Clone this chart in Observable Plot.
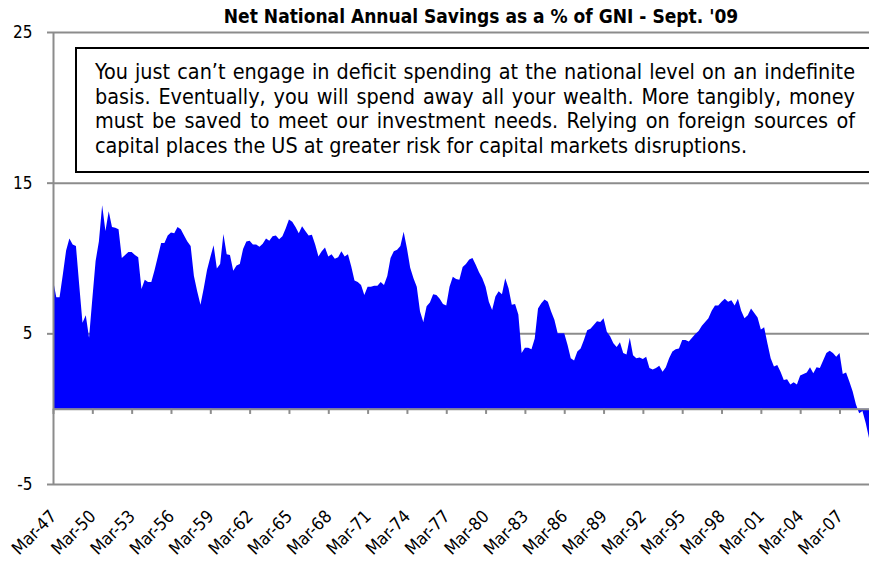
<!DOCTYPE html>
<html>
<head>
<meta charset="utf-8">
<script src="https://cdn.jsdelivr.net/npm/d3@7"></script>
<script src="https://cdn.jsdelivr.net/npm/@observablehq/plot@0.6"></script>
<style>
  html, body { margin: 0; padding: 0; background: #fff; }
  #wrap { position: relative; width: 869px; height: 566px; overflow: hidden; background: #fff;
          font-family: "DejaVu Sans Condensed", "Liberation Sans", sans-serif; }
  #spacer { height: 16px; }
  #title { position: absolute; left: 93px; width: 776px; top: 6px; text-align: center;
           font-weight: bold; font-size: 19px; line-height: 21px; color: #000; white-space: nowrap; }
  #note { position: absolute; left: 75px; top: 47px; width: 797px; height: 126px; box-sizing: border-box;
          border: 2px solid #000; background: #fff; padding: 11px 15px 0 18px;
          font-size: 21.4px; line-height: 24.5px; text-align: justify; color: #000; }
  svg { display: block; }
</style>
</head>
<body>
<div id="wrap">
  <div id="spacer"></div>
  <div id="chart"></div>
  <div id="title"></div>
  <div id="note"></div>
</div>
<script>
const titleText = "Net National Annual Savings as a % of GNI - Sept. '09";
const noteText = "You just can’t engage in deficit spending at the national level on an indefinite basis. Eventually, you will spend away all your wealth. More tangibly, money must be saved to meet our investment needs. Relying on foreign sources of capital places the US at greater risk for capital markets disruptions.";

// Quarterly net national savings as % of GNI, Mar-47 .. Jun-09
const savings = [
  8.55, 7.4, 7.4, 8.9, 10.5, 11.3, 10.9, 10.8, 8.2, 5.7,
  6.2, 4.7, 7.3, 9.8, 11.1, 13.5, 11.8, 13.1, 12.05, 12.0,
  11.9, 10.0, 10.2, 10.4, 10.4, 10.2, 10.05, 7.95, 8.55, 8.4,
  8.4, 9.2, 10.1, 11.0, 11.0, 11.5, 11.7, 11.65, 12.05, 11.9,
  11.5, 11.1, 10.8, 8.8, 7.8, 6.9, 8.0, 9.2, 10.05, 10.85,
  9.3, 9.6, 11.6, 10.25, 10.2, 9.15, 9.5, 9.6, 10.6, 11.1,
  11.15, 10.9, 10.9, 10.75, 10.95, 11.3, 11.15, 11.45, 11.5, 11.25,
  11.45, 11.95, 12.55, 12.4, 12.05, 11.65, 12.1, 11.8, 11.5, 11.55,
  10.9, 10.1, 10.45, 10.7, 10.1, 10.25, 9.95, 10.05, 10.45, 10.1,
  10.25, 9.45, 8.5, 8.4, 8.2, 7.55, 8.1, 8.1, 8.15, 8.15,
  8.4, 8.2, 8.8, 10.0, 10.45, 10.55, 10.8, 11.75, 10.65, 9.35,
  8.65, 8.1, 6.45, 5.75, 6.8, 7.05, 7.6, 7.55, 7.3, 6.95,
  6.85, 8.1, 8.75, 8.6, 8.55, 9.4, 9.6, 9.9, 10.0, 9.55,
  9.05, 8.65, 8.1, 7.1, 6.55, 7.45, 7.8, 7.6, 8.65, 8.0,
  6.9, 6.95, 6.25, 3.7, 4.05, 4.05, 3.95, 4.65, 6.65, 7.0,
  7.25, 7.1, 6.45, 5.9, 5.0, 5.0, 5.0, 4.25, 3.35, 3.2,
  3.8, 4.0, 4.55, 5.2, 5.3, 5.55, 5.8, 5.75, 6.0, 5.1,
  4.8, 4.35, 4.1, 4.4, 3.7, 3.6, 4.7, 3.55, 3.35, 3.4,
  3.3, 3.45, 2.7, 2.6, 2.7, 2.85, 2.45, 2.75, 3.35, 3.8,
  3.95, 4.0, 4.55, 4.55, 4.45, 4.7, 4.95, 5.15, 5.5, 5.75,
  6.0, 6.5, 6.85, 6.85, 7.1, 7.3, 7.1, 7.2, 6.85, 7.3,
  6.5, 6.0, 6.2, 6.65, 6.35, 6.05, 5.25, 5.4, 4.35, 3.35,
  2.8, 2.9, 2.45, 1.9, 1.95, 1.6, 1.75, 1.6, 2.2, 2.3,
  2.4, 2.75, 2.35, 2.75, 2.7, 3.2, 3.7, 3.85, 3.7, 3.45,
  3.7, 2.3, 2.4, 1.8, 1.15, 0.3, -0.3, -0.15, -0.95, -1.95
];

const tickLabels = ["Mar-47","Mar-50","Mar-53","Mar-56","Mar-59","Mar-62","Mar-65","Mar-68","Mar-71","Mar-74",
  "Mar-77","Mar-80","Mar-83","Mar-86","Mar-89","Mar-92","Mar-95","Mar-98","Mar-01","Mar-04","Mar-07"];
const quartersPerTick = 12;
const tickIndex = tickLabels.map((_, k) => k * quartersPerTick);
const yTicks = [-5, 5, 15, 25];

document.getElementById("title").textContent = titleText;
document.getElementById("note").textContent = noteText;

const gray = "#8c8c8c";
const chart = Plot.plot({
  width: 869,
  height: 550,
  marginTop: 16,
  marginBottom: 82,
  marginLeft: 53,
  marginRight: 0,
  style: {fontFamily: "'DejaVu Sans Condensed', 'Liberation Sans', sans-serif", fontSize: "17px", color: "#000", background: "transparent"},
  x: {domain: [0, savings.length - 1], axis: null},
  y: {domain: [-5, 25], axis: null},
  marks: [
    Plot.ruleY(yTicks, {stroke: gray, strokeWidth: 2}),
    Plot.areaY(savings, {x: (d, i) => i, y: d => d, fill: "#0000ff"}),
    Plot.ruleY([0], {stroke: gray, strokeWidth: 2}),
    Plot.ruleX(tickIndex, {x: d => d, y1: 0, y2: -0.35, stroke: gray, strokeWidth: 2}),
    Plot.ruleX([0], {y1: -5, y2: 25, stroke: gray, strokeWidth: 2}),
    Plot.axisY({ticks: yTicks, tickSize: 6, tickPadding: 15, stroke: gray, strokeWidth: 2, fontSize: 17, tickFormat: d => String(d)}),
    Plot.axisX({ticks: tickIndex, tickFormat: i => tickLabels[i / quartersPerTick], tickSize: 0, tickPadding: 29, tickRotate: -45, fontSize: 17.5})
  ]
});
document.getElementById("chart").appendChild(chart);
</script>
</body>
</html>
